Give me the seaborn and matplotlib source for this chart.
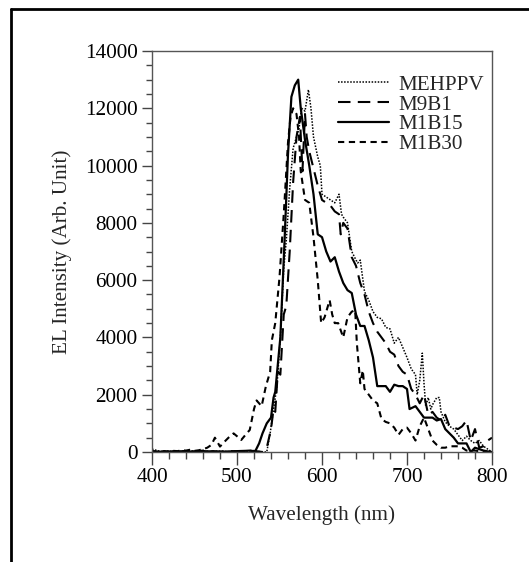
import matplotlib
matplotlib.use('Agg')
import matplotlib.pyplot as plt
from matplotlib.lines import Line2D
from matplotlib.ticker import MultipleLocator
import seaborn as sns
import pandas as pd

# --- data (wavelength in nm, EL intensity in arb. units) ---
mehppv_nm = [400, 405, 410, 420, 430, 440, 450, 460, 470, 480, 490, 500, 510, 520, 525, 530, 535,
             539, 543, 547, 551, 555, 558, 562, 566, 570, 573, 576, 580, 584, 587, 590, 595, 598,
             600, 605, 610, 615, 620, 623, 625, 630, 635, 640, 642, 645, 650, 655, 660, 665, 670,
             675, 680, 685, 690, 695, 700, 705, 710, 712, 715, 718, 720, 722, 725, 728, 730, 735,
             738, 740, 745, 750, 755, 760, 765, 770, 775, 780, 785, 790, 795, 800]
mehppv_val = [100, 60, 20, 30, 10, 40, 20, 30, 20, 30, 10, 30, 20, 40, 20, 0, 0,
              650, 1500, 2300, 4000, 6400, 7400, 9200, 10600, 11000, 11300, 12000, 11900, 12650, 12000, 11000, 10300, 10000,
              9000, 8900, 8800, 8700, 9000, 8300, 8200, 8000, 7000, 6700, 6600, 6700, 5600, 5300, 4900, 4700, 4650,
              4350, 4300, 3800, 4000, 3650, 3300, 2900, 2700, 2000, 2500, 3450, 2400, 1600, 1900, 1500, 1650, 1900,
              1900, 1400, 1050, 900, 800, 600, 400, 550, 400, 300, 400, 200, 100, 0]

m9b1_nm = [400, 410, 420, 430, 440, 450, 460, 470, 480, 490, 500, 510, 520, 530, 535, 540, 543, 545,
           548, 551, 555, 558, 562, 566, 570, 574, 577, 580, 582, 585, 590, 595, 600, 605, 610, 615,
           620, 622, 625, 630, 635, 640, 645, 650, 655, 660, 665, 670, 675, 680, 685, 690, 695, 700,
           705, 710, 715, 720, 725, 730, 735, 740, 745, 750, 755, 760, 765, 770, 775, 780, 785, 790,
           795, 800]
m9b1_val = [20, 10, 30, 10, 40, 20, 50, 30, 10, 30, 20, 30, 40, 0, 150, 800, 1500, 1400,
            2800, 2700, 4800, 5100, 7000, 9400, 11000, 11700, 9800, 11800, 11000, 10500, 9900, 9300, 8800, 8700, 8600, 8400,
            8300, 7600, 8000, 7800, 6800, 6500, 5900, 5500, 4900, 4500, 4200, 4000, 3800, 3500, 3400, 3000, 2800, 2700,
            2200, 2000, 1700, 2000, 1300, 1400, 1200, 1100, 1300, 900, 850, 800, 900, 1100, 400, 800, 150, 200,
            400, 500]

m1b15_nm = [400, 410, 420, 430, 440, 450, 460, 470, 480, 490, 500, 510, 516, 521, 526, 530, 535,
            540, 543, 545, 551, 556, 560, 564, 568, 572, 575, 580, 585, 590, 595, 600, 605, 610,
            615, 620, 625, 630, 635, 640, 645, 650, 655, 660, 665, 670, 675, 680, 685, 690, 695,
            700, 703, 710, 715, 720, 725, 730, 735, 740, 745, 750, 755, 760, 765, 770, 775, 780,
            785, 790, 795, 800]
m1b15_val = [10, 0, 20, 10, 20, 10, 30, 20, 10, 20, 30, 40, 50, 0, 300, 650, 1000,
             1200, 1900, 2100, 4000, 7400, 10400, 12400, 12800, 13000, 12000, 10900, 10000, 9000, 7600, 7500, 7000, 6650,
             6800, 6300, 5900, 5650, 5550, 4800, 4400, 4400, 3900, 3300, 2300, 2300, 2300, 2100, 2350, 2300, 2300,
             2200, 1500, 1600, 1400, 1200, 1200, 1200, 1100, 1150, 800, 650, 500, 300, 300, 300, 0, 150,
             100, 50, 20, 0]

m1b30_nm = [400, 405, 410, 415, 420, 425, 430, 435, 440, 445, 450, 455, 460, 465, 470, 474, 480,
            485, 490, 496, 500, 505, 510, 515, 520, 523, 529, 534, 539, 541, 545, 550, 555, 560,
            563, 566, 570, 573, 575, 580, 585, 590, 595, 599, 603, 606, 609, 612, 615, 619, 625,
            630, 635, 639, 641, 645, 648, 650, 655, 660, 665, 670, 675, 680, 685, 690, 695, 700,
            705, 710, 715, 720, 725, 730, 735, 740, 745, 750, 755, 760, 765, 770, 775, 780, 790, 800]
m1b30_val = [50, 0, 20, 30, 10, 40, 30, 60, 50, 80, 40, 60, 100, 150, 250, 500, 190,
             350, 500, 650, 550, 420, 600, 770, 1500, 1800, 1600, 2300, 2800, 3900, 4500, 6100, 8300, 10800,
             11700, 12000, 11800, 11000, 9800, 8800, 8700, 7500, 6000, 4500, 4700, 5000, 5300, 4800, 4500, 4500, 4000,
             4700, 4900, 4950, 3800, 2400, 2850, 2200, 2000, 1800, 1700, 1150, 1050, 1000, 850, 600, 800, 850,
             650, 400, 900, 1200, 800, 400, 250, 150, 150, 200, 200, 200, 150, 50, 50, 50, 0, 0]

series = [
    ('MEHPPV', mehppv_nm, mehppv_val, (0, (1, 1)), 1.1),
    ('M9B1', m9b1_nm, m9b1_val, (0, (6, 3.5)), 1.5),
    ('M1B15', m1b15_nm, m1b15_val, '-', 1.6),
    ('M1B30', m1b30_nm, m1b30_val, (0, (3, 2.2)), 1.5),
]

sns.set_style('ticks')
plt.rcParams['font.family'] = ['Liberation Serif', 'DejaVu Serif']

fs = 15.2

fig = plt.figure(figsize=(5.29, 5.62), dpi=100)
ax = fig.add_axes([152 / 529, 1 - 452 / 562, 340 / 529, 401 / 562])

for name, xs, ys, ls, lw in series:
    df = pd.DataFrame({'wavelength': xs, 'intensity': ys})
    sns.lineplot(data=df, x='wavelength', y='intensity', ax=ax, color='black',
                 linestyle=ls, linewidth=lw, label=name, sort=False)

ax.set_xlim(400, 800)
ax.set_ylim(0, 14000)
ax.xaxis.set_major_locator(MultipleLocator(100))
ax.xaxis.set_minor_locator(MultipleLocator(20))
ax.yaxis.set_major_locator(MultipleLocator(2000))
ax.yaxis.set_minor_locator(MultipleLocator(500))

ax.tick_params(axis='both', which='both', direction='out', colors='#444444',
               labelcolor='black', labelsize=fs, width=1)
ax.tick_params(axis='x', which='major', length=9.5, pad=2)
ax.tick_params(axis='x', which='minor', length=5)
ax.tick_params(axis='y', which='major', length=7.5, pad=3)
ax.tick_params(axis='y', which='minor', length=4.5)

for sp in ax.spines.values():
    sp.set_color('#555555')
    sp.set_linewidth(1)

ax.set_xlabel('Wavelength (nm)', fontsize=fs, labelpad=13)
ax.set_ylabel('EL Intensity (Arb. Unit)', fontsize=fs, labelpad=9)

ax.legend(loc='upper left', bbox_to_anchor=(0.547, 0.94), frameon=False,
          fontsize=fs, handlelength=2.4, handletextpad=0.45, labelspacing=0.0,
          borderpad=0, borderaxespad=0)

# outer frame of the original figure (left and top edges only)
fx = 11 / 529
fy = 1 - 9 / 562
fig.add_artist(Line2D([fx, fx], [0, fy], transform=fig.transFigure, color='black', linewidth=2))
fig.add_artist(Line2D([fx, 1], [fy, fy], transform=fig.transFigure, color='black', linewidth=2))

fig.savefig('out.png', dpi=100)
